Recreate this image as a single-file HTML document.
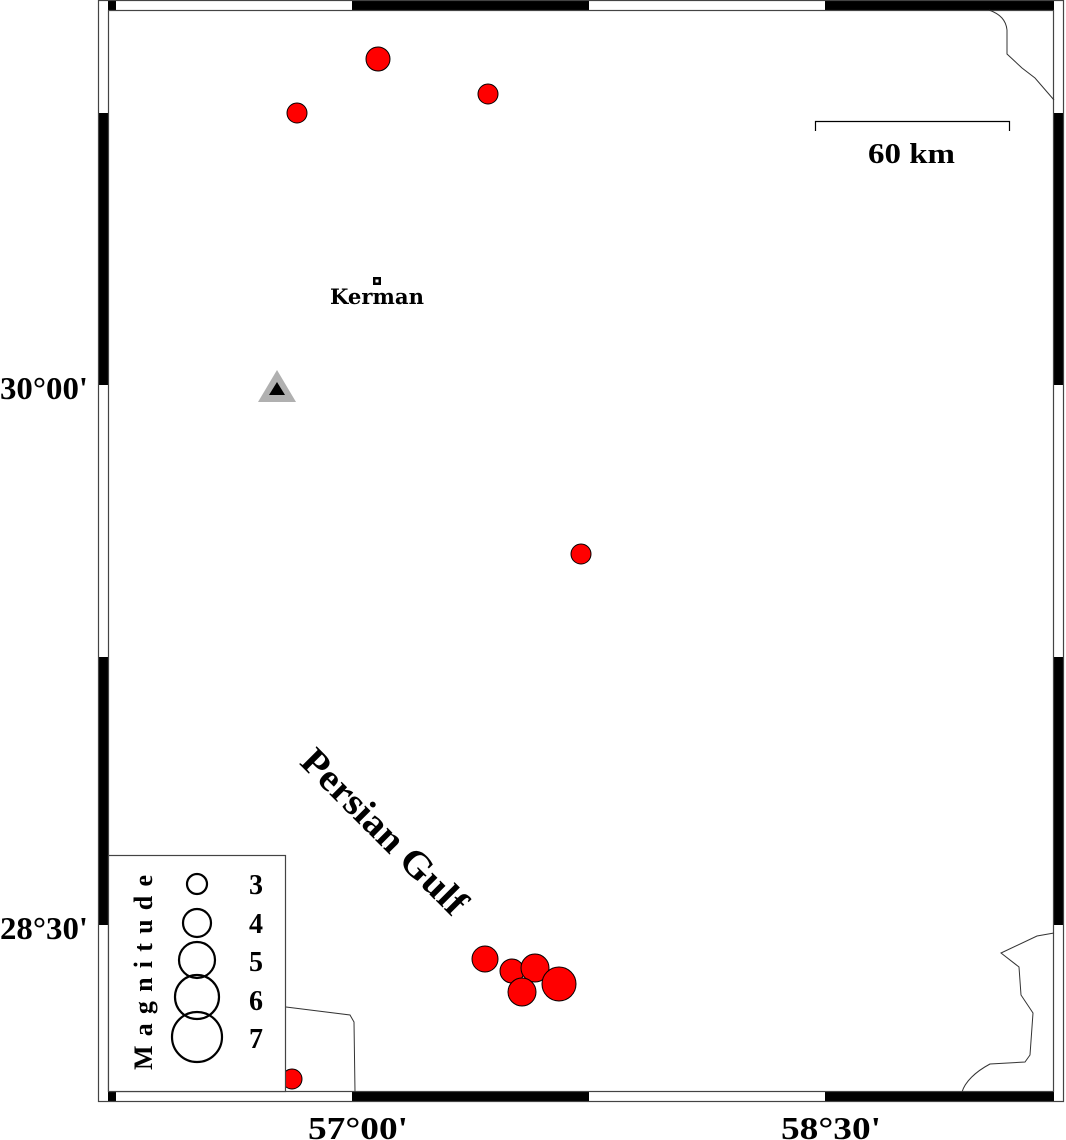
<!DOCTYPE html>
<html><head><meta charset="utf-8"><style>
html,body{margin:0;padding:0;background:#fff;}
svg{display:block;}
text{font-family:"Liberation Serif",serif;font-weight:bold;fill:#000;}
</style></head><body>
<svg width="1066" height="1140" viewBox="0 0 1066 1140" xmlns="http://www.w3.org/2000/svg">
<rect x="0" y="0" width="1066" height="1140" fill="#fff"/>
<g fill="#000">
<rect x="108" y="0" width="8" height="10"/>
<rect x="352" y="0" width="237" height="10"/>
<rect x="825" y="0" width="229" height="10"/>
<rect x="108" y="1092" width="8" height="10"/>
<rect x="352" y="1092" width="237" height="10"/>
<rect x="825" y="1092" width="229" height="10"/>
<rect x="98" y="113" width="10" height="272"/>
<rect x="98" y="657" width="10" height="268"/>
<rect x="1054" y="113" width="10" height="272"/>
<rect x="1054" y="657" width="10" height="268"/>
</g>
<g fill="none" stroke="#444" stroke-width="1.2">
<rect x="98.5" y="0.5" width="965" height="1101"/>
<rect x="108.5" y="10.5" width="945" height="1081"/>
</g>
<g fill="none" stroke="#333" stroke-width="1">
<path d="M989 10 C1000 14 1006 20 1007 30 L1007 54 L1022 68 L1035 78 L1054 100"/>
<path d="M1054 933 L1037 936 L1001 953 L1019 967 L1021 995 L1033 1013 L1030 1055 L1025 1062 L990 1064 C975 1072 965 1082 962 1092"/>
<path d="M286 1007 L350 1015 L354 1022 L355 1092"/>
</g>
<g fill="#ff0000" stroke="#000" stroke-width="1">
<circle cx="378" cy="59" r="12"/>
<circle cx="488" cy="94" r="10"/>
<circle cx="297" cy="113" r="10"/>
<circle cx="581" cy="554" r="10"/>
<circle cx="292" cy="1079" r="10"/>
<circle cx="485" cy="959" r="13"/>
<circle cx="512" cy="971" r="12"/>
<circle cx="535" cy="968" r="14"/>
<circle cx="522" cy="992" r="14"/>
<circle cx="559" cy="984" r="17"/>
</g>
<polygon points="277,370 296,402 258,402" fill="#b0b0b0"/>
<polygon points="277,382 285,395 269,395" fill="#000"/>
<rect x="373" y="277" width="8" height="8" fill="#000"/>
<rect x="375.5" y="279.5" width="3" height="3" fill="#fff"/>
<text x="330" y="304" font-size="21" style="font-family:'DejaVu Serif',serif" textLength="94" lengthAdjust="spacingAndGlyphs">Kerman</text>
<path d="M815.5 131 V121.5 H1009.5 V131" fill="none" stroke="#000" stroke-width="1.2"/>
<text x="868" y="163" font-size="29" textLength="87" lengthAdjust="spacingAndGlyphs">60 km</text>
<text x="0" y="0" font-size="38" text-anchor="middle" dominant-baseline="central" textLength="218" lengthAdjust="spacingAndGlyphs" transform="translate(384,832) rotate(45)">Persian Gulf</text>
<rect x="108.5" y="855.5" width="177" height="236" fill="#fff" stroke="#444" stroke-width="1.2"/>
<text x="0" y="0" font-size="26" transform="translate(152,1070) rotate(-90)" textLength="195" lengthAdjust="spacing">Magnitude</text>
<g fill="none" stroke="#000" stroke-width="2.2">
<circle cx="197" cy="884" r="10"/>
<circle cx="197" cy="923" r="14"/>
<circle cx="197" cy="960" r="18"/>
<circle cx="197" cy="997" r="22"/>
<circle cx="197" cy="1037" r="25"/>
</g>
<g font-size="28">
<text x="249" y="894">3</text>
<text x="249" y="933">4</text>
<text x="249" y="971">5</text>
<text x="249" y="1010">6</text>
<text x="249" y="1048">7</text>
</g>
<g font-size="32">
<text x="0" y="399" textLength="88" lengthAdjust="spacingAndGlyphs">30°00'</text>
<text x="0" y="939" textLength="88" lengthAdjust="spacingAndGlyphs">28°30'</text>
<text x="308" y="1139" textLength="100" lengthAdjust="spacingAndGlyphs">57°00'</text>
<text x="781" y="1139" textLength="100" lengthAdjust="spacingAndGlyphs">58°30'</text>
</g>
</svg>
</body></html>
